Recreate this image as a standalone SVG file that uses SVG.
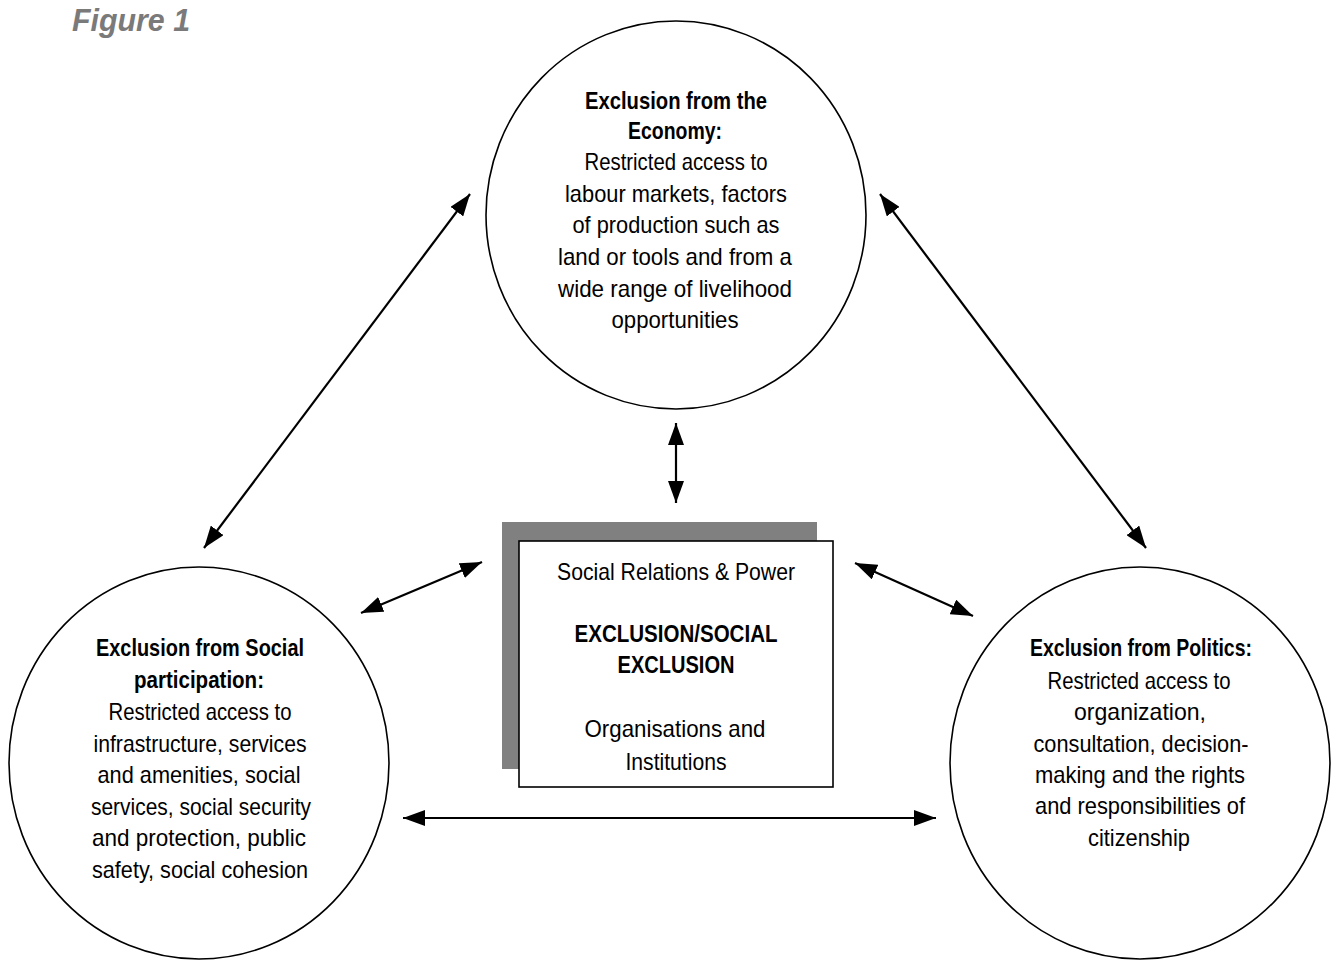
<svg xmlns="http://www.w3.org/2000/svg" width="1334" height="963" viewBox="0 0 1334 963">
  <style>
    .ring { fill: #ffffff; stroke: #000000; stroke-width: 1.6; }
    .t { font-family: "Liberation Sans", Arial, sans-serif; font-size: 24px; fill: #000000; text-anchor: middle; }
    .b { font-weight: bold; }
    .link { stroke: #000000; stroke-width: 2.2; fill: none; marker-start: url(#head); marker-end: url(#head); }
    .title { font-family: "Liberation Sans", Arial, sans-serif; font-size: 32px; font-weight: bold; font-style: italic; fill: #7a7a7a; }
  </style>
  <defs>
    <marker id="head" viewBox="0 0 22 16" refX="22" refY="8" markerWidth="22" markerHeight="16" markerUnits="userSpaceOnUse" orient="auto-start-reverse">
      <path d="M0,0 L22,8 L0,16 Z" fill="#000000"/>
    </marker>
  </defs>

  <rect width="1334" height="963" fill="#ffffff"/>

  <text class="title" x="72" y="31" textLength="118" lengthAdjust="spacingAndGlyphs">Figure 1</text>

  <!-- Economy circle -->
  <g id="economy">
    <ellipse class="ring" cx="676" cy="215" rx="190" ry="194"/>
    <text class="t b" x="676" y="109" textLength="182" lengthAdjust="spacingAndGlyphs">Exclusion from the</text>
    <text class="t b" x="675" y="139" textLength="94" lengthAdjust="spacingAndGlyphs">Economy:</text>
    <text class="t" x="676" y="170" textLength="183" lengthAdjust="spacingAndGlyphs">Restricted access to</text>
    <text class="t" x="676" y="202" textLength="222" lengthAdjust="spacingAndGlyphs">labour markets, factors</text>
    <text class="t" x="676" y="233" textLength="207" lengthAdjust="spacingAndGlyphs">of production such as</text>
    <text class="t" x="675" y="265" textLength="234" lengthAdjust="spacingAndGlyphs">land or tools and from a</text>
    <text class="t" x="675" y="297" textLength="234" lengthAdjust="spacingAndGlyphs">wide range of livelihood</text>
    <text class="t" x="675" y="328" textLength="127" lengthAdjust="spacingAndGlyphs">opportunities</text>
  </g>

  <!-- Social participation circle -->
  <g id="social">
    <ellipse class="ring" cx="199" cy="763" rx="190" ry="196"/>
    <text class="t b" x="200" y="656" textLength="208" lengthAdjust="spacingAndGlyphs">Exclusion from Social</text>
    <text class="t b" x="199" y="688" textLength="130" lengthAdjust="spacingAndGlyphs">participation:</text>
    <text class="t" x="200" y="720" textLength="183" lengthAdjust="spacingAndGlyphs">Restricted access to</text>
    <text class="t" x="200" y="752" textLength="213" lengthAdjust="spacingAndGlyphs">infrastructure, services</text>
    <text class="t" x="199" y="783" textLength="203" lengthAdjust="spacingAndGlyphs">and amenities, social</text>
    <text class="t" x="201" y="815" textLength="220" lengthAdjust="spacingAndGlyphs">services, social security</text>
    <text class="t" x="199" y="846" textLength="214" lengthAdjust="spacingAndGlyphs">and protection, public</text>
    <text class="t" x="200" y="878" textLength="216" lengthAdjust="spacingAndGlyphs">safety, social cohesion</text>
  </g>

  <!-- Politics circle -->
  <g id="politics">
    <ellipse class="ring" cx="1140" cy="763" rx="190" ry="196"/>
    <text class="t b" x="1141" y="656" textLength="222" lengthAdjust="spacingAndGlyphs">Exclusion from Politics:</text>
    <text class="t" x="1139" y="689" textLength="183" lengthAdjust="spacingAndGlyphs">Restricted access to</text>
    <text class="t" x="1140" y="720" textLength="132" lengthAdjust="spacingAndGlyphs">organization,</text>
    <text class="t" x="1141" y="752" textLength="215" lengthAdjust="spacingAndGlyphs">consultation, decision-</text>
    <text class="t" x="1140" y="783" textLength="210" lengthAdjust="spacingAndGlyphs">making and the rights</text>
    <text class="t" x="1140" y="814" textLength="210" lengthAdjust="spacingAndGlyphs">and responsibilities of</text>
    <text class="t" x="1139" y="846" textLength="102" lengthAdjust="spacingAndGlyphs">citizenship</text>
  </g>

  <!-- Central box with offset shadow -->
  <g id="core">
    <rect x="502" y="522" width="315" height="247" fill="#808080"/>
    <rect x="519" y="541" width="314" height="246" fill="#ffffff" stroke="#000000" stroke-width="1.6"/>
    <text class="t" x="676" y="580" textLength="238" lengthAdjust="spacingAndGlyphs">Social Relations &amp; Power</text>
    <text class="t b" x="676" y="642" textLength="203" lengthAdjust="spacingAndGlyphs">EXCLUSION/SOCIAL</text>
    <text class="t b" x="676" y="673" textLength="117" lengthAdjust="spacingAndGlyphs">EXCLUSION</text>
    <text class="t" x="675" y="737" textLength="181" lengthAdjust="spacingAndGlyphs">Organisations and</text>
    <text class="t" x="676" y="770" textLength="101" lengthAdjust="spacingAndGlyphs">Institutions</text>
  </g>

  <!-- Two-way links -->
  <g id="connectors">
    <line class="link" x1="204" y1="548" x2="470" y2="194"/>
    <line class="link" x1="880" y1="194" x2="1146" y2="548"/>
    <line class="link" x1="676" y1="423" x2="676" y2="503"/>
    <line class="link" x1="361" y1="613" x2="482" y2="562"/>
    <line class="link" x1="855" y1="563" x2="973" y2="616"/>
    <line class="link" x1="403" y1="818" x2="936" y2="818"/>
  </g>
</svg>
